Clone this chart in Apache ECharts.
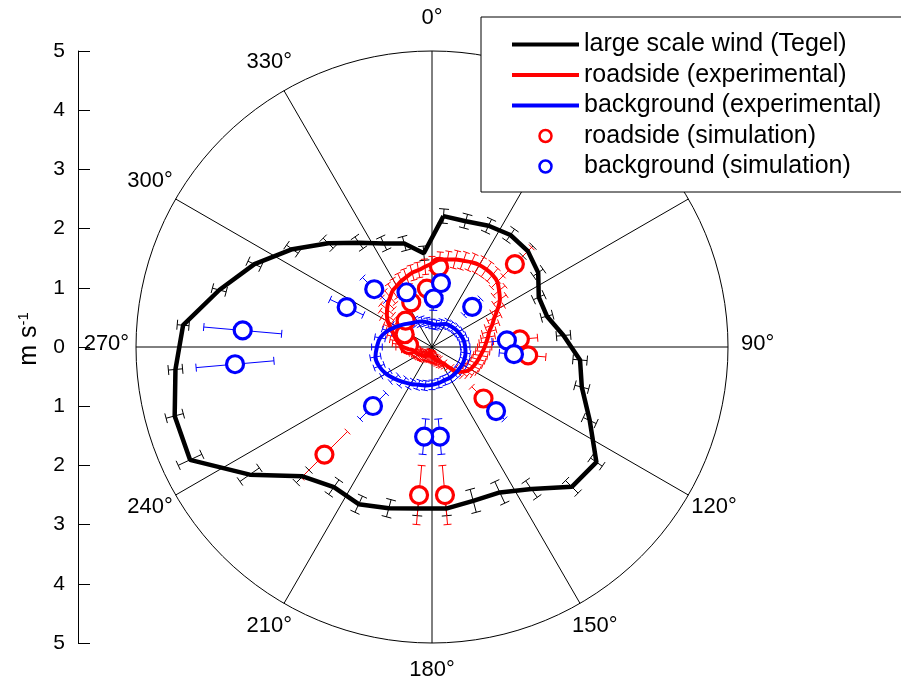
<!DOCTYPE html>
<html><head><meta charset="utf-8">
<script src="https://cdn.jsdelivr.net/npm/echarts@6/dist/echarts.min.js"></script>
<style>html,body{margin:0;padding:0;background:#fff}#c{width:901px;height:678px}</style>
</head><body><div id="c"></div>
<script>
// ---- data ----
const angleTicks = [0, 30, 60, 90, 120, 150, 180, 210, 240, 270, 300, 330];
const angleTickLabels = ['0°', '30°', '60°', '90°', '120°', '150°', '180°', '210°', '240°', '270°', '300°', '330°'];
const speedTicks = [-5, -4, -3, -2, -1, 0, 1, 2, 3, 4, 5];

const windAngles = [5, 15, 25, 35, 45, 55, 65, 75, 85, 95, 105, 115, 125, 135, 145, 155, 165, 175,
  185, 195, 205, 215, 225, 235, 245, 255, 265, 275, 285, 295, 305, 315, 325, 335, 345, 355];
const windSpeed = [2.22, 2.20, 2.26, 2.31, 2.29, 2.19, 1.99, 2.01, 2.23, 2.51, 2.62, 2.94, 3.39, 3.34, 2.93, 2.71, 2.69, 2.74,
  2.74, 2.82, 2.93, 2.89, 3.09, 3.76, 4.51, 4.50, 4.35, 4.22, 3.72, 3.31, 2.88, 2.48, 2.15, 1.93, 1.81, 1.59];
const windErr = [0.12, 0.12, 0.12, 0.12, 0.12, 0.10, 0.10, 0.10, 0.12, 0.12, 0.12, 0.12, 0.12, 0.15, 0.17, 0.20, 0.20, 0.12,
  0.12, 0.15, 0.15, 0.15, 0.15, 0.20, 0.22, 0.15, 0.12, 0.10, 0.12, 0.12, 0.12, 0.12, 0.12, 0.12, 0.12, 0.12];

const roadsideAngles = [0, 5, 10, 15, 20, 25, 30, 35, 40, 45, 50, 55, 60, 65, 70, 75, 80, 85, 90, 95, 100, 105, 110, 115,
  120, 125, 130, 135, 140, 145, 150, 155, 160, 165, 170, 175, 180, 185, 190, 195, 200, 205, 210, 215, 220, 225, 230, 235,
  240, 245, 250, 255, 260, 265, 270, 275, 280, 285, 290, 295, 300, 305, 310, 315, 320, 325, 330, 335, 340, 345, 350, 355];
const roadsideExp = [1.41, 1.48, 1.50, 1.53, 1.55, 1.58, 1.60, 1.60, 1.59, 1.56, 1.48, 1.40, 1.28, 1.16, 1.08, 1.00, 0.96, 0.92,
  0.89, 0.86, 0.83, 0.81, 0.79, 0.77, 0.75, 0.71, 0.65, 0.59, 0.45, 0.34, 0.30, 0.27, 0.25, 0.22, 0.20, 0.18,
  0.17, 0.16, 0.15, 0.15, 0.15, 0.16, 0.17, 0.18, 0.20, 0.21, 0.22, 0.23, 0.25, 0.26, 0.28, 0.30, 0.32, 0.40,
  0.49, 0.55, 0.60, 0.65, 0.70, 0.77, 0.86, 0.93, 0.99, 1.05, 1.10, 1.16, 1.19, 1.23, 1.26, 1.30, 1.32, 1.36];
const roadsideExpErr = [0.12, 0.13, 0.14, 0.15, 0.15, 0.15, 0.15, 0.15, 0.14, 0.14, 0.13, 0.13, 0.12, 0.12, 0.12, 0.12, 0.12, 0.12,
  0.12, 0.12, 0.12, 0.12, 0.12, 0.12, 0.12, 0.12, 0.12, 0.12, 0.12, 0.11, 0.10, 0.10, 0.10, 0.10, 0.10, 0.10,
  0.10, 0.10, 0.10, 0.10, 0.10, 0.10, 0.10, 0.10, 0.10, 0.10, 0.10, 0.10, 0.10, 0.10, 0.10, 0.11, 0.12, 0.12,
  0.12, 0.12, 0.12, 0.13, 0.13, 0.13, 0.13, 0.14, 0.14, 0.14, 0.14, 0.14, 0.14, 0.14, 0.14, 0.13, 0.13, 0.13];

const backgroundAngles = [0, 10, 20, 30, 40, 50, 60, 70, 80, 90, 100, 110, 120, 130, 140, 150, 160, 170,
  180, 190, 200, 210, 220, 230, 240, 250, 260, 270, 280, 290, 300, 310, 320, 330, 340, 350];
const backgroundExp = [0.39, 0.38, 0.41, 0.45, 0.47, 0.49, 0.51, 0.53, 0.55, 0.56, 0.575, 0.585, 0.59, 0.59, 0.595, 0.60, 0.60, 0.62,
  0.64, 0.66, 0.68, 0.72, 0.77, 0.83, 0.90, 0.95, 0.97, 0.93, 0.89, 0.80, 0.69, 0.60, 0.53, 0.49, 0.46, 0.42];
const backgroundExpErr = [0.08, 0.08, 0.08, 0.08, 0.08, 0.08, 0.08, 0.08, 0.08, 0.08, 0.08, 0.08, 0.08, 0.08, 0.08, 0.08, 0.08, 0.08,
  0.08, 0.08, 0.08, 0.08, 0.09, 0.09, 0.09, 0.09, 0.09, 0.09, 0.09, 0.09, 0.08, 0.08, 0.08, 0.08, 0.08, 0.08];

const roadsideSimAngles = [5, 45, 85, 95, 135, 175, 185, 225, 275, 295, 315, 335, 355];
const roadsideSim = [1.36, 1.98, 1.49, 1.63, 1.23, 2.51, 2.51, 2.57, 0.39, 0.51, 0.63, 0.83, 0.99];
const roadsideSimErr = [0.15, 0.40, 0.30, 0.30, 0.28, 0.50, 0.50, 0.55, 0.15, 0.15, 0.15, 0.15, 0.15];

const backgroundSimAngles = [8, 45, 85, 95, 135, 175, 185, 225, 265, 275, 295, 315, 335, 2];
const backgroundSim = [1.09, 0.96, 1.27, 1.39, 1.53, 1.52, 1.52, 1.41, 3.34, 3.21, 1.59, 1.38, 1.02, 0.82];
const backgroundSimErr = [0.20, 0.20, 0.25, 0.25, 0.20, 0.30, 0.30, 0.31, 0.66, 0.66, 0.31, 0.28, 0.20, 0.20];

// ---- helpers ----
const FONT = "'Liberation Sans', Arial, sans-serif";
const LINE_ICON = 'path://M0,0H67V4H0Z';
function closed(angles, vals) {
  const d = angles.map((a, i) => [vals[i], a]);
  d.push(d[0].slice());
  return d;
}
function triples(angles, vals, errs) {
  return angles.map((a, i) => [vals[i], a, errs[i]]);
}
function errRender(color, cap, width) {
  return function (params, api) {
    const r = api.value(0), a = api.value(1), e = api.value(2);
    const p0 = api.coord([r - e, a]);
    const p1 = api.coord([r + e, a]);
    const dx = p1[0] - p0[0], dy = p1[1] - p0[1];
    const len = Math.hypot(dx, dy) || 1;
    const nx = -dy / len * cap / 2, ny = dx / len * cap / 2;
    const style = { stroke: color, lineWidth: width, fill: null };
    return {
      type: 'group', children: [
        { type: 'line', shape: { x1: p0[0], y1: p0[1], x2: p1[0], y2: p1[1] }, style: style },
        { type: 'line', shape: { x1: p0[0] - nx, y1: p0[1] - ny, x2: p0[0] + nx, y2: p0[1] + ny }, style: style },
        { type: 'line', shape: { x1: p1[0] - nx, y1: p1[1] - ny, x2: p1[0] + nx, y2: p1[1] + ny }, style: style }
      ]
    };
  };
}
function errSeries(data, color, cap) {
  return {
    type: 'custom', coordinateSystem: 'polar', silent: true,
    dimensions: ['radius', 'angle', 'err'],
    encode: { radius: 0, angle: 1 },
    data: data, renderItem: errRender(color, cap, 1)
  };
}

const LABEL_R = 5.5;
const LABEL_DY = -3;
const chart = echarts.init(document.getElementById('c'), null, { renderer: 'canvas' });
chart.setOption({
  animation: false,
  backgroundColor: '#fff',
  polar: { center: [432, 347], radius: 296 },
  angleAxis: {
    type: 'value', min: 0, max: 360, interval: 30, startAngle: 90, clockwise: true,
    axisLine: { show: true, lineStyle: { color: '#000', width: 1 } },
    axisTick: { show: false }, axisLabel: { show: false },
    splitLine: { show: true, lineStyle: { color: '#000', width: 1 } }
  },
  radiusAxis: {
    type: 'value', min: 0, max: 5,
    axisLine: { show: false }, axisTick: { show: false }, axisLabel: { show: false }, splitLine: { show: false }
  },
  grid: { left: 78, top: 51, width: 100, height: 592, outerBoundsMode: 'none', containLabel: false },
  xAxis: { type: 'value', show: false, min: 0, max: 1 },
  yAxis: {
    type: 'value', min: speedTicks[0], max: speedTicks[speedTicks.length - 1], interval: 1,
    axisLine: { show: true, lineStyle: { color: '#000', width: 1 } },
    axisTick: { show: true, inside: true, length: 12, lineStyle: { color: '#000', width: 1 } },
    axisLabel: { color: '#000', fontSize: 21, fontFamily: FONT, margin: 13, formatter: v => String(Math.abs(v)) },
    splitLine: { show: false }
  },
  graphic: [{
    type: 'text', x: 29, y: 339, rotation: Math.PI / 2,
    style: {
      text: '{a|m s}{b|-1}', align: 'center', verticalAlign: 'middle', fill: '#000',
      rich: {
        a: { fontSize: 25, fontFamily: FONT, fill: '#000' },
        b: { fontSize: 15, fontFamily: FONT, fill: '#000', verticalAlign: 'top' }
      }
    }
  }],
  legend: {
    orient: 'vertical', left: 481, top: 17, z: 10,
    data: [
      { name: 'large scale wind (Tegel)', icon: LINE_ICON },
      { name: 'roadside (experimental)', icon: LINE_ICON },
      { name: 'background (experimental)', icon: LINE_ICON },
      { name: 'roadside (simulation)', icon: 'circle', itemStyle: { color: '#fff', borderColor: '#ff0000', borderWidth: 2.5, opacity: 1 } },
      { name: 'background (simulation)', icon: 'circle', itemStyle: { color: '#fff', borderColor: '#0000ff', borderWidth: 2.5, opacity: 1 } }
    ],
    borderColor: '#000', borderWidth: 1, borderRadius: 0, backgroundColor: '#fff',
    padding: [15, 40, 13, 31], itemWidth: 67, itemHeight: 12, itemGap: 5.5,
    selectedMode: false,
    textStyle: { fontSize: 25, lineHeight: 25, color: '#000', fontFamily: FONT }
  },
  series: [
    { name: 'large scale wind (Tegel)', type: 'line', coordinateSystem: 'polar', symbol: 'none',
      lineStyle: { color: '#000', width: 4.5 }, itemStyle: { color: '#000' },
      data: closed(windAngles, windSpeed) },
    errSeries(triples(windAngles, windSpeed, windErr), '#000', 10),
    { name: 'roadside (experimental)', type: 'line', coordinateSystem: 'polar', symbol: 'none', smooth: 0.3,
      lineStyle: { color: '#ff0000', width: 4 }, itemStyle: { color: '#ff0000' },
      data: closed(roadsideAngles, roadsideExp) },
    errSeries(triples(roadsideAngles, roadsideExp, roadsideExpErr), '#ff0000', 7),
    { name: 'background (experimental)', type: 'line', coordinateSystem: 'polar', symbol: 'none', smooth: 0.4,
      lineStyle: { color: '#0000ff', width: 4 }, itemStyle: { color: '#0000ff' },
      data: closed(backgroundAngles, backgroundExp) },
    errSeries(triples(backgroundAngles, backgroundExp, backgroundExpErr), '#0000ff', 7),
    errSeries(triples(roadsideSimAngles, roadsideSim, roadsideSimErr), '#ff0000', 8),
    { name: 'roadside (simulation)', type: 'scatter', coordinateSystem: 'polar', symbol: 'circle', symbolSize: 17,
      itemStyle: { color: '#fff', borderColor: '#ff0000', borderWidth: 3.2, opacity: 1 },
      data: roadsideSimAngles.map((a, i) => [roadsideSim[i], a]) },
    errSeries(triples(backgroundSimAngles, backgroundSim, backgroundSimErr), '#0000ff', 8),
    { name: 'background (simulation)', type: 'scatter', coordinateSystem: 'polar', symbol: 'circle', symbolSize: 17,
      itemStyle: { color: '#fff', borderColor: '#0000ff', borderWidth: 3.2, opacity: 1 },
      data: backgroundSimAngles.map((a, i) => [backgroundSim[i], a]) },
    { type: 'custom', coordinateSystem: 'polar', silent: true, z: 1,
      dimensions: ['radius', 'angle'], encode: { radius: 0, angle: 1 },
      data: angleTicks.map(a => [LABEL_R, a]),
      renderItem: function (params, api) {
        const p = api.coord([api.value(0), api.value(1)]);
        return { type: 'text', x: p[0], y: p[1] + LABEL_DY,
          style: { text: angleTickLabels[params.dataIndex], fontSize: 22, fontFamily: FONT, fill: '#000',
            align: 'center', verticalAlign: 'middle' } };
      } }
  ]
});
</script></body></html>
